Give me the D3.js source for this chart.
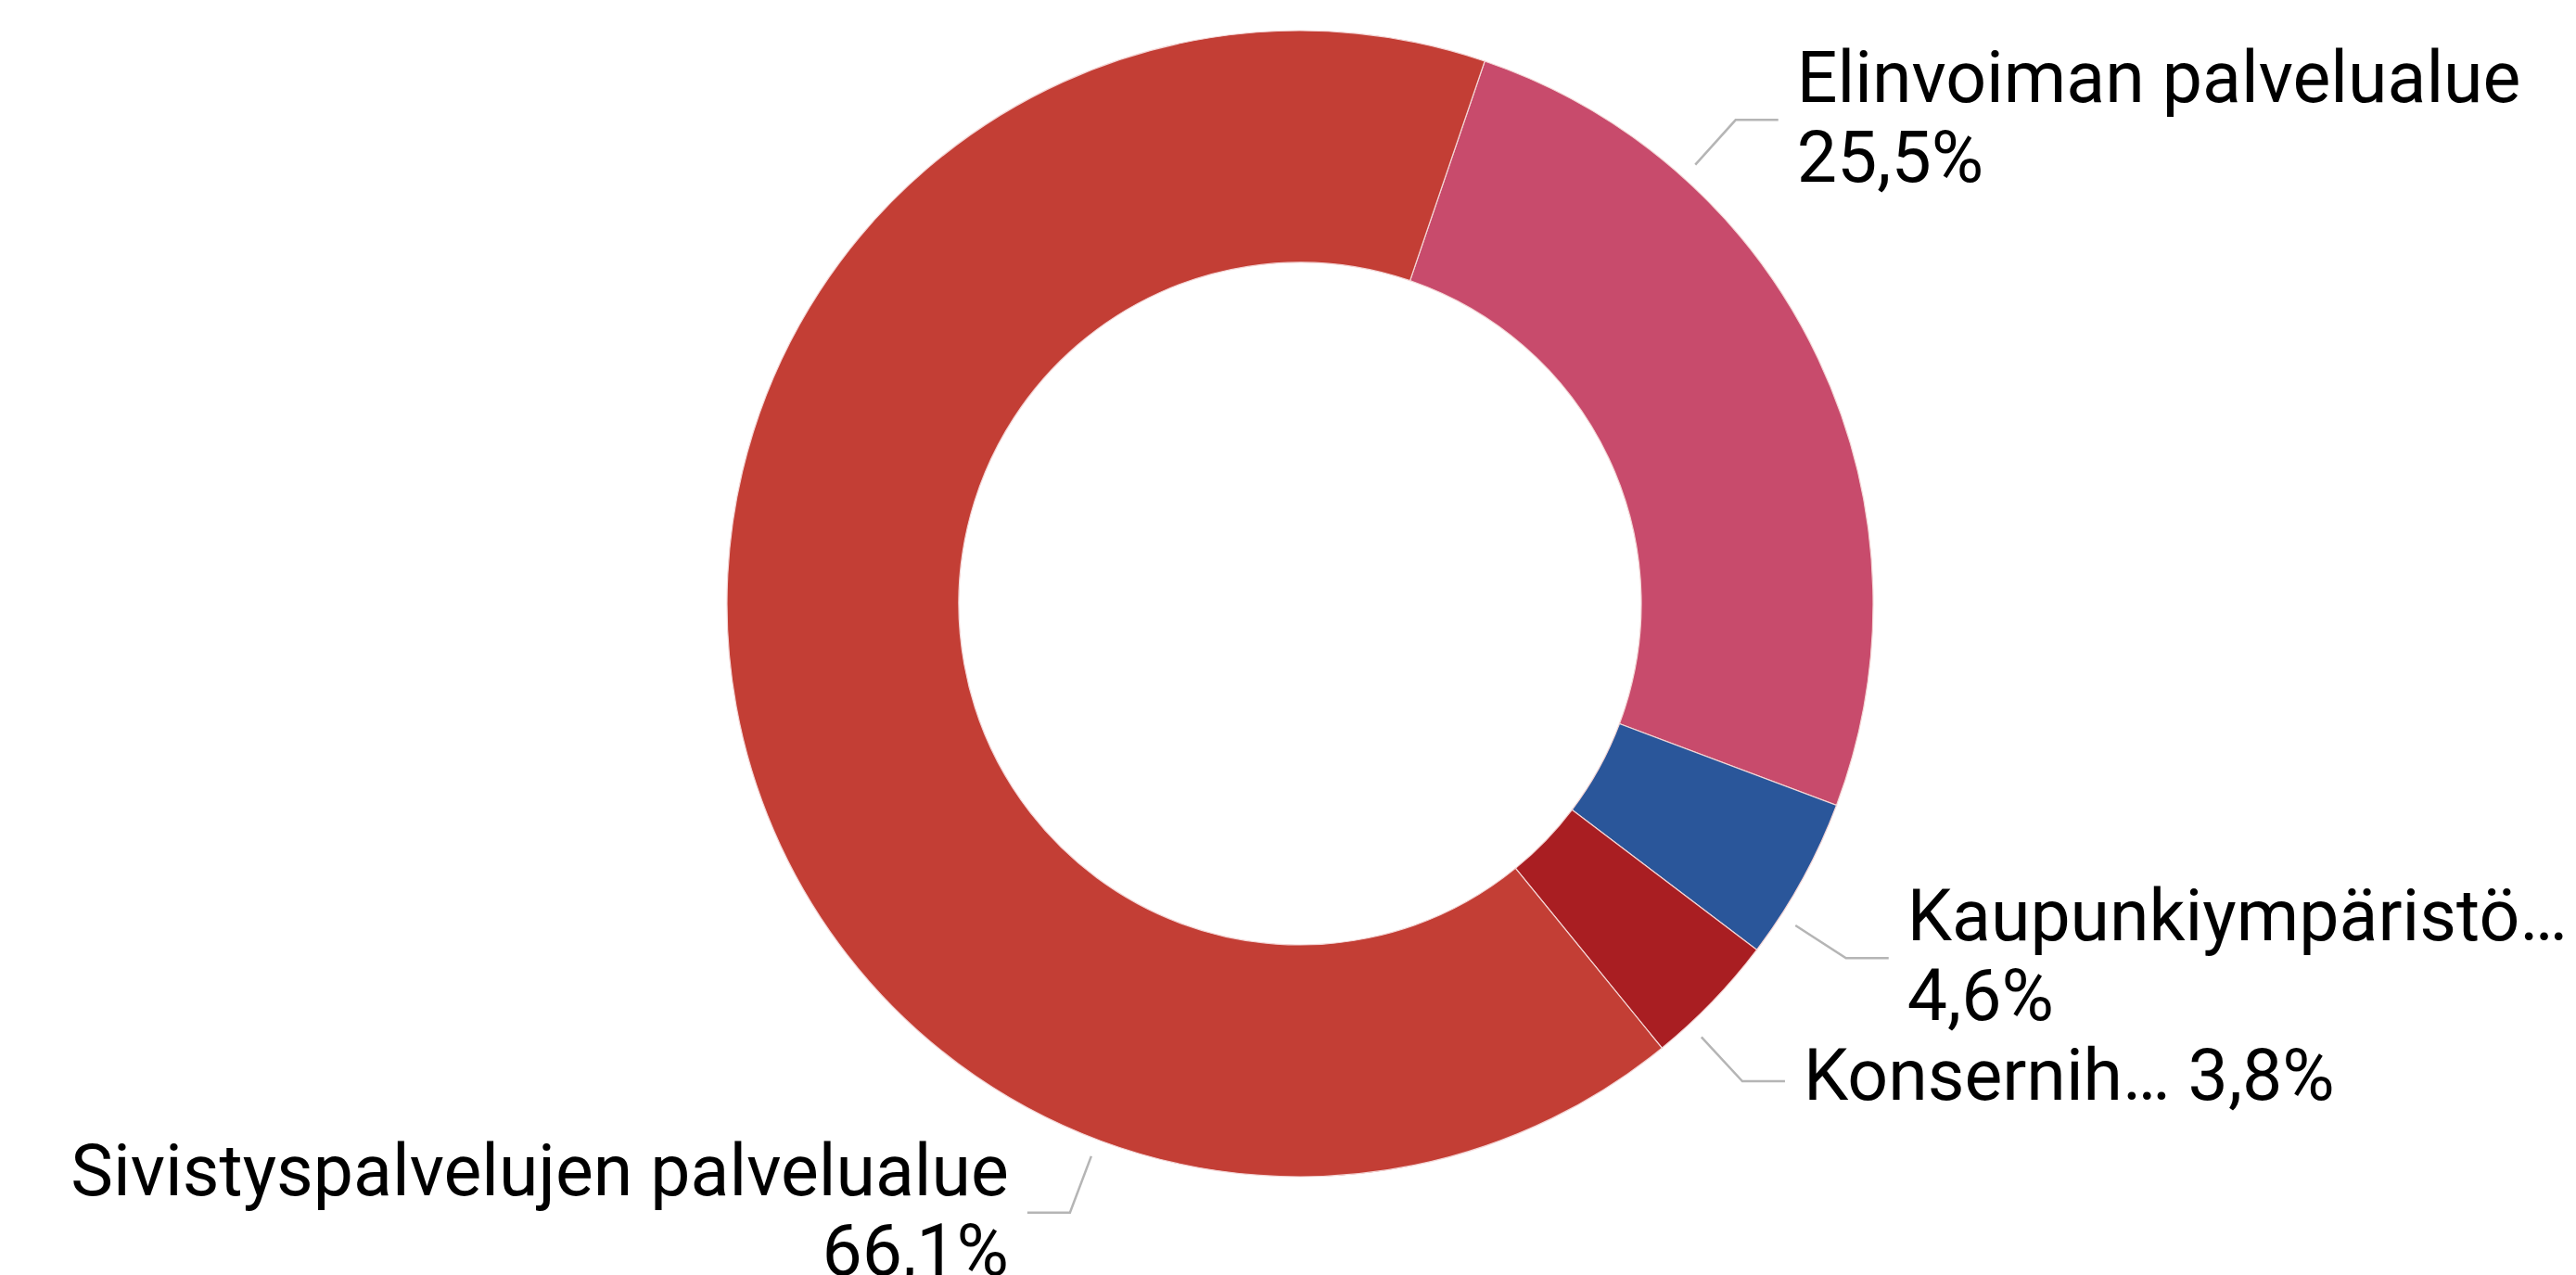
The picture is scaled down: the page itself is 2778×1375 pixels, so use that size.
<!DOCTYPE html>
<html>
<head>
<meta charset="utf-8">
<script src="https://cdn.jsdelivr.net/npm/d3@7"></script>
<style>
  html, body { margin: 0; padding: 0; background: #fff; }
  svg { display: block; }
  text { font-family: Roboto, "Noto Sans", sans-serif; fill: #000; }
</style>
</head>
<body>
<div id="chart"></div>
<script>
// data
let categories = ['Elinvoiman palvelualue', 'Kaupunkiympäristö…', 'Konsernih…', 'Sivistyspalvelujen palvelualue'];
let shares = [25.5, 4.6, 3.8, 66.1];
let valueLabels = ['25,5%', '4,6%', '3,8%', '66,1%'];
let colors = ['#C84B6C', '#2A569A', '#A91E22', '#C33E35'];

let width = 2778, height = 1375;
let cx = 1402, cy = 651;
let outerR = 618, innerR = 368;

// leader line placement (degrees, clockwise from 12 o'clock), side and how the label wraps
let labelAngle = [42, 123, 137.2, 200.7];
let labelSide = [1, 1, 1, -1];
let oneLine = [false, false, true, false];

let svg = d3.select('#chart').append('svg')
  .attr('width', width)
  .attr('height', height);

let g = svg.append('g').attr('transform', `translate(${cx},${cy})`);

let startA = 18.8 * Math.PI / 180;
let pie = d3.pie().sort(null).value(d => d).startAngle(startA).endAngle(startA + 2 * Math.PI);
let arc = d3.arc().innerRadius(innerR).outerRadius(outerR);

let arcs = pie(shares);

g.selectAll('path.slice')
  .data(arcs)
  .enter().append('path')
  .attr('class', 'slice')
  .attr('d', arc)
  .attr('fill', (d, i) => colors[i])
  .attr('stroke', '#f4d6d6')
  .attr('stroke-width', 1.2);

let fontSize = 77;
let lineGap = 86;

arcs.forEach((d, i) => {
  let a = labelAngle[i] * Math.PI / 180;
  let p0 = [(outerR + 19) * Math.sin(a), -(outerR + 19) * Math.cos(a)];
  let p1 = [(outerR + 84) * Math.sin(a), -(outerR + 84) * Math.cos(a)];
  let p2 = [p1[0] + labelSide[i] * 46, p1[1]];

  g.append('path')
    .attr('d', d3.line()([p0, p1, p2]))
    .attr('fill', 'none')
    .attr('stroke', '#b5b5b5')
    .attr('stroke-width', 2.5);

  let tx = p2[0] + labelSide[i] * 20;
  let t = g.append('text')
    .attr('x', tx)
    .attr('text-anchor', labelSide[i] > 0 ? 'start' : 'end')
    .style('font-size', fontSize + 'px');

  if (oneLine[i]) {
    t.attr('y', p1[1] + 20).text(categories[i] + ' ' + valueLabels[i]);
  } else {
    t.attr('y', p1[1] - 19);
    t.append('tspan').attr('x', tx).text(categories[i]);
    t.append('tspan').attr('x', tx).attr('dy', lineGap).text(valueLabels[i]);
  }
});
</script>
</body>
</html>
